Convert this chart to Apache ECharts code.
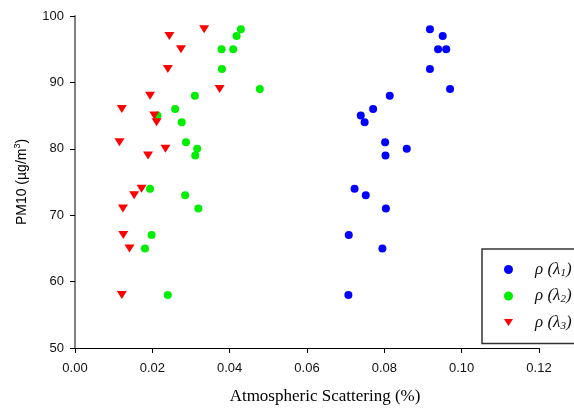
<!DOCTYPE html>
<html>
<head>
<meta charset="utf-8">
<script src="https://cdn.jsdelivr.net/npm/echarts@6/dist/echarts.min.js"></script>
<style>
html,body{margin:0;padding:0;background:#fff;}
#chart{width:574px;height:410px;}
</style>
</head>
<body>
<div id="chart"></div>
<script>
// PM10 values shared by the series
const pm10 = [98, 97, 95, 95, 92, 89, 88, 86, 85, 84, 81, 80, 79, 74, 73, 71, 67, 65, 58];
const rho1X = [0.0918, 0.0951, 0.0939, 0.0960, 0.0918, 0.0970, 0.0814, 0.0771, 0.0739, 0.0749, 0.0802, 0.0858, 0.0803, 0.0723, 0.0752, 0.0804, 0.0708, 0.0795, 0.0707];
const rho2X = [0.0429, 0.0418, 0.0379, 0.0409, 0.0380, 0.0478, 0.0310, 0.0259, 0.0213, 0.0276, 0.0287, 0.0316, 0.0311, 0.0194, 0.0285, 0.0319, 0.0198, 0.0181, 0.0240];
const rho3Y = [98, 97, 95, 92, 89, 88, 86, 85, 84, 81, 80, 79, 74, 73, 71, 67, 65, 58];
const rho3X = [0.0334, 0.0244, 0.0274, 0.0240, 0.0374, 0.0194, 0.0121, 0.0205, 0.0211, 0.0115, 0.0234, 0.0189, 0.0172, 0.0153, 0.0124, 0.0125, 0.0141, 0.0121];
const seriesNames = ['ρ(λ1)', 'ρ(λ2)', 'ρ(λ3)'];
const legendSubs = ['1', '2', '3'];

function pairs(xs, ys) { return xs.map((x, i) => [x, ys[i]]); }

const downTriangle = 'path://M0,0 L10,0 L5,8 Z';

const chart = echarts.init(document.getElementById('chart'));
chart.setOption({
  backgroundColor: '#fff',
  animation: false,
  grid: { left: 75, right: 35, top: 16, bottom: 59 },
  xAxis: {
    type: 'value', min: 0, max: 0.12, interval: 0.02,
    name: 'Atmospheric Scattering (%)',
    nameLocation: 'middle', nameGap: 40,
    nameTextStyle: { fontFamily: 'Liberation Serif', fontSize: 17, color: '#000', padding: [0, 0, 0, 36] },
    axisLine: { lineStyle: { color: '#000', width: 1 } },
    axisTick: { show: true, length: 5, inside: false, lineStyle: { color: '#000' } },
    axisLabel: { formatter: v => v.toFixed(2), fontFamily: 'Liberation Sans', fontSize: 13, color: '#111', margin: 14 },
    splitLine: { show: false }
  },
  yAxis: {
    type: 'value', min: 50, max: 100, interval: 10,
    name: 'PM10 (µg/m{sup|3})',
    nameLocation: 'middle', nameGap: 44, nameRotate: 90,
    nameTextStyle: {
      fontFamily: 'Liberation Sans', fontSize: 14, color: '#000', lineHeight: 18,
      rich: { sup: { fontFamily: 'Liberation Sans', fontSize: 9, lineHeight: 9, verticalAlign: 'top', color: '#000' } }
    },
    axisLine: { show: true, lineStyle: { color: '#808080', width: 2 } },
    axisTick: { show: true, length: 5, inside: false, lineStyle: { color: '#000' } },
    axisLabel: { fontFamily: 'Liberation Sans', fontSize: 13, color: '#111', margin: 11 },
    splitLine: { show: false }
  },
  legend: {
    orient: 'vertical', left: 482, top: 249,
    padding: [12, 120, 12, 22],
    itemGap: 9, itemWidth: 9, itemHeight: 9,
    borderColor: '#333', borderWidth: 1.5,
    backgroundColor: '#fff',
    data: [
      { name: seriesNames[0], icon: 'circle' },
      { name: seriesNames[1], icon: 'circle' },
      { name: seriesNames[2], icon: downTriangle }
    ],
    formatter: function (name) {
      const i = seriesNames.indexOf(name);
      return '{a|ρ (λ}{s|' + legendSubs[i] + '}{b|)}';
    },
    textStyle: {
      rich: {
        a: { fontFamily: 'Liberation Serif', fontStyle: 'italic', fontSize: 17, lineHeight: 18, padding: [0, 0, 0, 17], color: '#111' },
        b: { fontFamily: 'Liberation Serif', fontStyle: 'italic', fontSize: 17, lineHeight: 18, color: '#111' },
        s: { fontFamily: 'Liberation Serif', fontStyle: 'italic', fontSize: 11, lineHeight: 8, verticalAlign: 'bottom', color: '#111' }
      }
    }
  },
  series: [
    { name: seriesNames[0], type: 'scatter', symbol: 'circle', symbolSize: 8,
      itemStyle: { color: '#0000ff', opacity: 1 }, data: pairs(rho1X, pm10) },
    { name: seriesNames[1], type: 'scatter', symbol: 'circle', symbolSize: 8,
      itemStyle: { color: '#00ee00', opacity: 1 }, data: pairs(rho2X, pm10) },
    { name: seriesNames[2], type: 'scatter', symbol: downTriangle, symbolSize: [10, 8],
      itemStyle: { color: '#ff0000', opacity: 1 }, data: pairs(rho3X, rho3Y) }
  ]
});
</script>
</body>
</html>
